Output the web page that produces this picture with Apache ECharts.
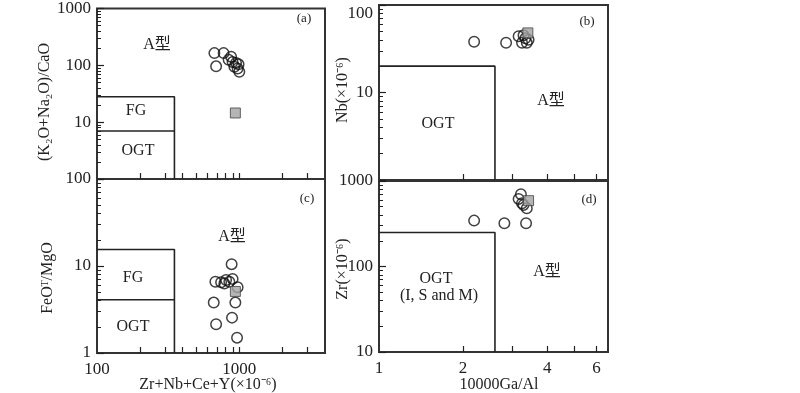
<!DOCTYPE html>
<html>
<head>
<meta charset="utf-8">
<script src="https://cdn.jsdelivr.net/npm/echarts@6/dist/echarts.min.js"></script>
<style>
html, body { margin: 0; padding: 0; background: #fff; }
#chart { width: 800px; height: 393px; }
</style>
</head>
<body>
<div id="chart"></div>
<script>
// (a) Zr+Nb+Ce+Y vs (K2O+Na2O)/CaO
const aCircles = [[668, 164], [776, 164], [875, 142], [687, 96], [841, 125], [897, 114], [948, 110], [988, 104], [923, 94], [973, 88], [1000, 77]];
const aSquare = [[938, 14.5]];
// (c) Zr+Nb+Ce+Y vs FeOT/MgO
const cCircles = [[883, 10.5], [679, 6.6], [745, 6.5], [807, 6.9], [897, 7.1], [785, 6.3], [851, 6.6], [973, 5.7], [661, 3.8], [938, 3.8], [687, 2.14], [889, 2.55], [964, 1.5]];
const cSquare = [[938, 5.1]];
// (b) 10000Ga/Al vs Nb
const bCircles = [[2.19, 38], [2.85, 37], [3.16, 44], [3.29, 45], [3.25, 37], [3.38, 37], [3.43, 40], [3.34, 41.6]];
const bSquare = [[3.41, 48]];
// (d) 10000Ga/Al vs Zr
const dCircles = [[2.19, 344], [2.81, 321], [3.36, 321], [3.22, 700], [3.16, 617], [3.25, 550], [3.38, 480], [3.29, 525]];
const dSquare = [[3.43, 589]];

// field boundaries
const sumLimit = 350, fgTopA = 28, ogtTopA = 7;
const fgTopC = 15.5, ogtTopC = 4.1;
const gaAlLimit = 2.6, nbLimit = 20, zrLimit = 250;

// ticks / labels
const sumTicks = [200, 300, 400, 500, 600, 700, 800, 900, 1000, 2000, 3000];
const sumLabels = [100, 1000];
const gaTicks = [2, 3, 4, 5, 6];
const gaLabels = [1, 2, 4, 6];

const FONT = '"Liberation Serif", "Noto Sans CJK SC", serif';
const INK = '#222';

const chart = echarts.init(document.getElementById('chart'));

const plain = (v) => String(+Number(v).toPrecision(6));

function xAxis(idx, min, max, ticks, labels) {
    return {
        type: 'log', gridIndex: idx, min: min, max: max,
        axisLine: { show: false },
        splitLine: { show: false },
        axisTick: { show: true, inside: true, length: 6, customValues: ticks, lineStyle: { color: INK, width: 1.2 } },
        axisLabel: labels ? { show: true, customValues: labels, formatter: plain, margin: 8, fontSize: 17, fontFamily: FONT, color: INK } : { show: false }
    };
}
function yAxis(idx, min, max, hideMin, topAlign) {
    return {
        type: 'log', gridIndex: idx, min: min, max: max,
        axisLine: { show: false },
        splitLine: { show: false },
        axisTick: { show: true, inside: true, length: 7, lineStyle: { color: INK, width: 1.2 } },
        minorTick: { show: true, splitNumber: 9, length: 4, lineStyle: { color: INK, width: 1 } },
        axisLabel: {
            margin: 6, fontSize: 17, fontFamily: FONT, color: INK, formatter: plain,
            showMinLabel: !hideMin,
            verticalAlignMaxLabel: topAlign ? 'top' : undefined
        }
    };
}
function boxLine(xi, data) {
    return { type: 'line', xAxisIndex: xi, yAxisIndex: xi, data: data, symbol: 'none', silent: true,
        lineStyle: { color: INK, width: 1.6 }, z: 2 };
}
function circles(xi, data) {
    return { type: 'scatter', xAxisIndex: xi, yAxisIndex: xi, data: data, symbol: 'circle', symbolSize: 10.5,
        itemStyle: { color: 'rgba(0,0,0,0)', borderColor: '#111', borderWidth: 1.5 }, z: 3 };
}
function squares(xi, data) {
    return { type: 'scatter', xAxisIndex: xi, yAxisIndex: xi, data: data, symbol: 'rect', symbolSize: 10,
        itemStyle: { color: '#a3a3a3', borderColor: '#444', borderWidth: 1 }, z: 4 };
}
function txt(x, y, s, size, rot) {
    return { type: 'text', x: x, y: y, rotation: rot || 0, z: 10,
        style: { text: s, fontSize: size, fontFamily: FONT, fill: INK, align: 'center', verticalAlign: 'middle' } };
}

const gridStyle = { show: true, borderColor: '#333', borderWidth: 2, backgroundColor: 'transparent' };

const option = {
    animation: false,
    grid: [
        Object.assign({ left: 97, top: 3, width: 228, height: 176 }, gridStyle),
        Object.assign({ left: 97, top: 179, width: 228, height: 174 }, gridStyle),
        Object.assign({ left: 379, top: 5, width: 229, height: 175 }, gridStyle),
        Object.assign({ left: 379, top: 181, width: 229, height: 171 }, gridStyle)
    ],
    xAxis: [
        xAxis(0, 100, 4000, sumTicks, null),
        xAxis(1, 100, 4000, sumTicks, sumLabels),
        xAxis(2, 1, 6.6, gaTicks, null),
        xAxis(3, 1, 6.6, gaTicks, gaLabels)
    ],
    yAxis: [
        yAxis(0, 1, 1000, true, false),
        yAxis(1, 1, 100, false, false),
        yAxis(2, 1, 100, true, true),
        yAxis(3, 10, 1000, false, false)
    ],
    series: [
        boxLine(0, [[100, fgTopA], [sumLimit, fgTopA], [sumLimit, 1]]),
        boxLine(0, [[100, ogtTopA], [sumLimit, ogtTopA]]),
        boxLine(1, [[100, fgTopC], [sumLimit, fgTopC], [sumLimit, 1]]),
        boxLine(1, [[100, ogtTopC], [sumLimit, ogtTopC]]),
        boxLine(2, [[1, nbLimit], [gaAlLimit, nbLimit], [gaAlLimit, 1]]),
        boxLine(3, [[1, zrLimit], [gaAlLimit, zrLimit], [gaAlLimit, 10]]),
        circles(0, aCircles), squares(0, aSquare),
        circles(1, cCircles), squares(1, cSquare),
        circles(2, bCircles), squares(2, bSquare),
        circles(3, dCircles), squares(3, dSquare)
    ],
    graphic: [
        txt(304, 19, '(a)', 13), txt(157, 45, 'A型', 16), txt(136, 111, 'FG', 16), txt(138, 151, 'OGT', 16),
        txt(307, 199, '(c)', 13), txt(232, 237, 'A型', 16), txt(133, 278, 'FG', 16), txt(133, 327, 'OGT', 16),
        txt(587, 22, '(b)', 13), txt(551, 101, 'A型', 16), txt(438, 124, 'OGT', 16),
        txt(589, 200, '(d)', 13), txt(547, 272, 'A型', 16), txt(436, 279, 'OGT', 16), txt(439, 296, '(I, S and M)', 16),
        txt(45, 102, '(K₂O+Na₂O)/CaO', 16, Math.PI / 2),
        txt(48, 278, 'FeOᵀ/MgO', 16, Math.PI / 2),
        txt(343, 90, 'Nb(×10⁻⁶)', 16, Math.PI / 2),
        txt(343, 269, 'Zr(×10⁻⁶)', 16, Math.PI / 2),
        txt(208, 385, 'Zr+Nb+Ce+Y(×10⁻⁶)', 16),
        txt(499, 385, '10000Ga/Al', 16)
    ]
};
chart.setOption(option);
</script>
</body>
</html>
